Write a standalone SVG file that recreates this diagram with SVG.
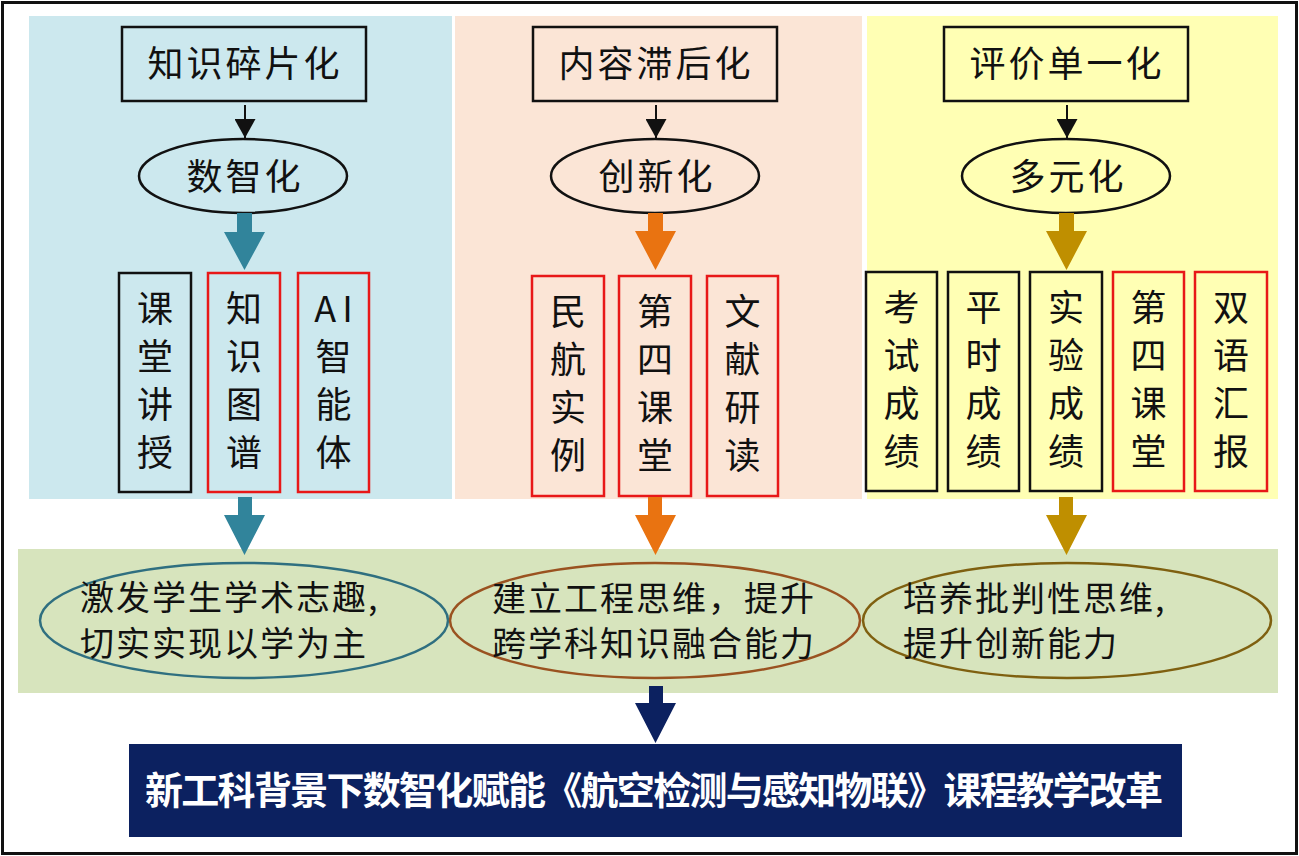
<svg xmlns="http://www.w3.org/2000/svg" width="1299" height="856" viewBox="0 0 1299 856">
<style>
.t{font-family:"Noto Sans CJK SC","Noto Sans",sans-serif;fill:#111}
.lab{font-size:36px;text-anchor:middle;letter-spacing:3px}
.v{font-size:36px;text-anchor:middle}
.res{font-size:34px;letter-spacing:2px}
.box{stroke-width:2.5}
.bk{fill:none;stroke:#111}
.rd{fill:none;stroke:#e81818}
.top{fill:none;stroke:#111;stroke-width:2.5}
.ell{fill:none;stroke:#111;stroke-width:2.5}
</style>
<defs>
<marker id="ah" viewBox="0 0 19 21" refX="19" refY="10.5" markerWidth="19" markerHeight="21" markerUnits="userSpaceOnUse" orient="auto">
<path d="M0,0 L19,10.5 L0,21 Z" fill="#111"/>
</marker>
</defs>
<rect x="0" y="0" width="1299" height="856" fill="#fff"/>
<rect x="2.5" y="2.5" width="1294" height="851" fill="none" stroke="#111" stroke-width="3"/>

<g id="panels">
<rect x="29" y="16" width="423" height="483" fill="#cce8ee"/>
<rect x="455" y="16" width="407" height="483" fill="#fbe5d6"/>
<rect x="867" y="16" width="411" height="483" fill="#ffffb4"/>
<rect x="18" y="549" width="1260" height="144" fill="#d7e4bd"/>
</g>

<!-- column 1 -->
<g id="n-zhishi">
<rect class="top" x="122" y="27" width="244" height="74"/>
<text class="t lab" x="245" y="77">知识碎片化</text>
</g>
<g id="n-shuzhi">
<ellipse class="ell" cx="243" cy="176" rx="104" ry="37"/>
<text class="t lab" x="245" y="190">数智化</text>
</g>
<g id="n-ketang">
<rect class="box bk" x="119" y="273" width="72" height="219"/>
<text class="t v" x="155" y="322">课<tspan x="155" dy="48">堂</tspan><tspan x="155" dy="48">讲</tspan><tspan x="155" dy="48">授</tspan></text>
</g>
<g id="n-tupu">
<rect class="box rd" x="208" y="273" width="72" height="219"/>
<text class="t v" x="244" y="322">知<tspan x="244" dy="48">识</tspan><tspan x="244" dy="48">图</tspan><tspan x="244" dy="48">谱</tspan></text>
</g>
<g id="n-ai">
<rect class="box rd" x="298" y="273" width="71" height="219"/>
<text class="t v" x="333.5" y="322"><tspan letter-spacing="6" dx="3">AI</tspan><tspan x="333.5" dy="48">智</tspan><tspan x="333.5" dy="48">能</tspan><tspan x="333.5" dy="48">体</tspan></text>
</g>

<!-- column 2 -->
<g id="n-neirong">
<rect class="top" x="533" y="27" width="244" height="74"/>
<text class="t lab" x="656" y="77">内容滞后化</text>
</g>
<g id="n-chuangxin">
<ellipse class="ell" cx="655" cy="176" rx="104" ry="37"/>
<text class="t lab" x="657" y="190">创新化</text>
</g>
<g id="n-minhang">
<rect class="box rd" x="532" y="276" width="72" height="220"/>
<text class="t v" x="568" y="325">民<tspan x="568" dy="48">航</tspan><tspan x="568" dy="48">实</tspan><tspan x="568" dy="48">例</tspan></text>
</g>
<g id="n-disi">
<rect class="box rd" x="619" y="276" width="72" height="220"/>
<text class="t v" x="655" y="325">第<tspan x="655" dy="48">四</tspan><tspan x="655" dy="48">课</tspan><tspan x="655" dy="48">堂</tspan></text>
</g>
<g id="n-wenxian">
<rect class="box rd" x="707" y="276" width="71" height="220"/>
<text class="t v" x="742.5" y="325">文<tspan x="742.5" dy="48">献</tspan><tspan x="742.5" dy="48">研</tspan><tspan x="742.5" dy="48">读</tspan></text>
</g>

<!-- column 3 -->
<g id="n-pingjia">
<rect class="top" x="944" y="27" width="244" height="74"/>
<text class="t lab" x="1067" y="77">评价单一化</text>
</g>
<g id="n-duoyuan">
<ellipse class="ell" cx="1066" cy="176" rx="104" ry="37"/>
<text class="t lab" x="1068" y="190">多元化</text>
</g>
<g id="n-kaoshi">
<rect class="box bk" x="866" y="272" width="71" height="219"/>
<text class="t v" x="901.5" y="321">考<tspan x="901.5" dy="48">试</tspan><tspan x="901.5" dy="48">成</tspan><tspan x="901.5" dy="48">绩</tspan></text>
</g>
<g id="n-pingshi">
<rect class="box bk" x="948" y="272" width="71" height="219"/>
<text class="t v" x="983.5" y="321">平<tspan x="983.5" dy="48">时</tspan><tspan x="983.5" dy="48">成</tspan><tspan x="983.5" dy="48">绩</tspan></text>
</g>
<g id="n-shiyan">
<rect class="box bk" x="1030" y="272" width="72" height="219"/>
<text class="t v" x="1066" y="321">实<tspan x="1066" dy="48">验</tspan><tspan x="1066" dy="48">成</tspan><tspan x="1066" dy="48">绩</tspan></text>
</g>
<g id="n-disi2">
<rect class="box rd" x="1113" y="272" width="71" height="219"/>
<text class="t v" x="1148.5" y="321">第<tspan x="1148.5" dy="48">四</tspan><tspan x="1148.5" dy="48">课</tspan><tspan x="1148.5" dy="48">堂</tspan></text>
</g>
<g id="n-shuangyu">
<rect class="box rd" x="1195" y="272" width="72" height="219"/>
<text class="t v" x="1231" y="321">双<tspan x="1231" dy="48">语</tspan><tspan x="1231" dy="48">汇</tspan><tspan x="1231" dy="48">报</tspan></text>
</g>

<!-- outcomes -->
<g id="n-out1">
<ellipse cx="244" cy="620.5" rx="204" ry="57.5" fill="none" stroke="#2f6f80" stroke-width="2.5"/>
<text class="t res" x="80" y="610">激发学生学术志趣,<tspan x="80" dy="46">切实实现以学为主</tspan></text>
</g>
<g id="n-out2">
<ellipse cx="655" cy="620.5" rx="205" ry="57.5" fill="none" stroke="#9a5220" stroke-width="2.5"/>
<text class="t res" x="492" y="611">建立工程思维，提升<tspan x="492" dy="45">跨学科知识融合能力</tspan></text>
</g>
<g id="n-out3">
<ellipse cx="1067" cy="620.5" rx="204" ry="57.5" fill="none" stroke="#7f6010" stroke-width="2.5"/>
<text class="t res" x="903" y="611">培养批判性思维,<tspan x="903" dy="45">提升创新能力</tspan></text>
</g>

<!-- goal -->
<g id="n-goal">
<rect x="129" y="744" width="1053" height="93" fill="#0c2160"/>
<text x="654" y="804" font-family="Noto Sans CJK SC, Noto Sans, sans-serif" font-size="38" font-weight="bold" fill="#fff" text-anchor="middle" textLength="1018" lengthAdjust="spacing">新工科背景下数智化赋能《航空检测与感知物联》课程教学改革</text>
</g>

<!-- connectors -->
<g id="connectors">
<line x1="245" y1="105" x2="245" y2="138" stroke="#111" stroke-width="2" marker-end="url(#ah)"/>
<line x1="656" y1="105" x2="656" y2="138" stroke="#111" stroke-width="2" marker-end="url(#ah)"/>
<line x1="1067" y1="105" x2="1067" y2="138" stroke="#111" stroke-width="2" marker-end="url(#ah)"/>
<polygon fill="#31849b" points="237,213 252,213 252,232 265,232 244.5,270 224,232 237,232"/>
<polygon fill="#31849b" points="238,497 252,497 252,515 265,515 244.5,555 224,515 238,515"/>
<polygon fill="#e97311" points="648,213 663,213 663,231 676,231 655.5,270 635,231 648,231"/>
<polygon fill="#e97311" points="648,497 662,497 662,515 676,515 655.5,555 635,515 648,515"/>
<polygon fill="#bf8f00" points="1059,213 1074,213 1074,231 1087,231 1066.5,270 1046,231 1059,231"/>
<polygon fill="#bf8f00" points="1059,497 1073,497 1073,515 1087,515 1066.5,555 1046,515 1059,515"/>
<polygon fill="#0c2160" points="649,686 663,686 663,703 676,703 655.5,743 635,703 649,703"/>
</g>
</svg>
